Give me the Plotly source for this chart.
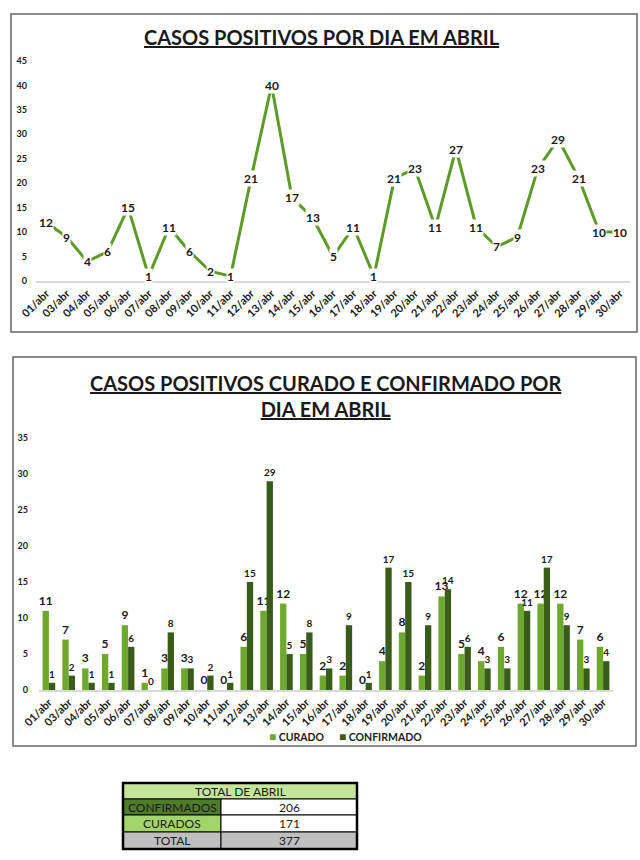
import plotly.graph_objects as go

# ---------------- data ----------------
dias = ["01/abr", "03/abr", "04/abr", "05/abr", "06/abr", "07/abr", "08/abr", "09/abr",
        "10/abr", "11/abr", "12/abr", "13/abr", "14/abr", "15/abr", "16/abr", "17/abr",
        "18/abr", "19/abr", "20/abr", "21/abr", "22/abr", "23/abr", "24/abr", "25/abr",
        "26/abr", "27/abr", "28/abr", "29/abr", "30/abr"]
positivos = [12, 9, 4, 6, 15, 1, 11, 6, 2, 1, 21, 40, 17, 13, 5, 11, 1, 21, 23, 11,
             27, 11, 7, 9, 23, 29, 21, 10, 10]
curado = [11, 7, 3, 5, 9, 1, 3, 3, 0, 0, 6, 11, 12, 5, 2, 2, 0, 4, 8, 2,
          13, 5, 4, 6, 12, 12, 12, 7, 6]
confirmado = [1, 2, 1, 1, 6, 0, 8, 3, 2, 1, 15, 29, 5, 8, 3, 9, 1, 17, 15, 9,
              14, 6, 3, 3, 11, 17, 9, 3, 4]
series_nomes = ["CURADO", "CONFIRMADO"]
tabela_titulo = "TOTAL DE ABRIL"
tabela_rotulos = ["CONFIRMADOS", "CURADOS", "TOTAL"]
tabela_valores = [206, 171, 377]

# ---------------- styles ----------------
W, H = 640, 860
FONT = "Lato"
LINE_GREEN = "#5d9b26"
LIGHT_GREEN = "#6fa82f"
DARK_GREEN = "#3a5c1b"
TXT = "#1a1a1a"


def px(x):
    return x / W


def py(y):
    return 1 - y / H


fig = go.Figure()

# top line chart
fig.add_trace(go.Scatter(
    x=dias, y=positivos, mode="lines",
    line=dict(color=LINE_GREEN, width=3),
    xaxis="x", yaxis="y", showlegend=False, hoverinfo="x+y",
))

# bottom bar chart
fig.add_trace(go.Bar(
    x=dias, y=curado, name=series_nomes[0], marker_color=LIGHT_GREEN,
    text=[str(v) for v in curado], textposition="outside",
    textfont=dict(family=FONT, size=12, color=TXT, weight="bold"),
    constraintext="none", cliponaxis=False, showlegend=False,
    xaxis="x2", yaxis="y2",
))
fig.add_trace(go.Bar(
    x=dias, y=confirmado, name=series_nomes[1], marker_color=DARK_GREEN,
    text=[str(v) for v in confirmado], textposition="outside",
    textfont=dict(family=FONT, size=10, color=TXT, weight="bold"),
    constraintext="none", cliponaxis=False, showlegend=False,
    xaxis="x2", yaxis="y2",
))

annotations = []
# line data labels with white background
for d, v in zip(dias, positivos):
    annotations.append(dict(
        x=d, y=v, xref="x", yref="y", text=str(v), showarrow=False,
        font=dict(family=FONT, size=12, color=TXT, weight="bold"),
        bgcolor="white", borderpad=0, xanchor="center", yanchor="middle",
    ))

# titles
annotations.append(dict(
    x=0.503, y=py(37), xref="paper", yref="paper", showarrow=False,
    text='<span style="text-decoration:underline">CASOS POSITIVOS POR DIA EM ABRIL</span>',
    font=dict(family=FONT, size=20, color=TXT, weight="bold"),
    xanchor="center", yanchor="middle",
))
annotations.append(dict(
    x=0.508, y=py(396), xref="paper", yref="paper", showarrow=False,
    text='<span style="text-decoration:underline">CASOS POSITIVOS CURADO E CONFIRMADO POR</span><br>'
         '<span style="text-decoration:underline">DIA EM ABRIL</span>',
    font=dict(family=FONT, size=20, color=TXT, weight="bold"),
    xanchor="center", yanchor="middle", align="center",
))

# compact legend (small squares close to the text)
for nome, cor, lx in zip(series_nomes, [LIGHT_GREEN, DARK_GREEN], [267, 337]):
    annotations.append(dict(
        x=px(lx), y=py(736), xref="paper", yref="paper", showarrow=False,
        text=f'<span style="color:{cor};font-size:12px">■</span> {nome}',
        font=dict(family=FONT, size=10.5, color=TXT, weight="bold"),
        xanchor="left", yanchor="middle",
    ))

shapes = []
# frames around charts
shapes.append(dict(type="rect", xref="paper", yref="paper",
                   x0=px(11), x1=px(637), y0=py(332), y1=py(14),
                   line=dict(color="#666666", width=1.5)))
shapes.append(dict(type="rect", xref="paper", yref="paper",
                   x0=px(13), x1=px(636), y0=py(746), y1=py(357),
                   line=dict(color="#666666", width=1.5)))

# table built from shapes + text
tx0, tx1, tmid = 123, 357, 221
rows_y = [783, 799, 815, 832, 849]
label_fills = ["#4f7d27", "#a2d46a", "#bfbfbf"]
value_fills = ["white", "white", "#bfbfbf"]
cell_font = dict(family=FONT, size=12, color=TXT)
shapes.append(dict(type="rect", xref="paper", yref="paper",
                   x0=px(tx0), x1=px(tx1), y0=py(rows_y[1]), y1=py(rows_y[0]),
                   fillcolor="#c5e59c", line=dict(color="black", width=1)))
annotations.append(dict(x=px((tx0 + tx1) / 2), y=py((rows_y[0] + rows_y[1]) / 2),
                        xref="paper", yref="paper", showarrow=False, text=tabela_titulo,
                        font=cell_font, xanchor="center", yanchor="middle"))
for i, (lab, val) in enumerate(zip(tabela_rotulos, tabela_valores)):
    y0, y1 = rows_y[i + 1], rows_y[i + 2]
    shapes.append(dict(type="rect", xref="paper", yref="paper",
                       x0=px(tx0), x1=px(tmid), y0=py(y1), y1=py(y0),
                       fillcolor=label_fills[i], line=dict(color="black", width=1)))
    shapes.append(dict(type="rect", xref="paper", yref="paper",
                       x0=px(tmid), x1=px(tx1), y0=py(y1), y1=py(y0),
                       fillcolor=value_fills[i], line=dict(color="black", width=1)))
    annotations.append(dict(x=px((tx0 + tmid) / 2), y=py((y0 + y1) / 2),
                            xref="paper", yref="paper", showarrow=False, text=lab,
                            font=cell_font, xanchor="center", yanchor="middle"))
    annotations.append(dict(x=px((tmid + tx1) / 2), y=py((y0 + y1) / 2),
                            xref="paper", yref="paper", showarrow=False, text=str(val),
                            font=cell_font, xanchor="center", yanchor="middle"))
# thick outer border
shapes.append(dict(type="rect", xref="paper", yref="paper",
                   x0=px(tx0), x1=px(tx1), y0=py(rows_y[-1]), y1=py(rows_y[0]),
                   line=dict(color="black", width=2.5)))

tickfont_x = dict(family=FONT, size=11, color=TXT, weight="bold")
tickfont_y = dict(family=FONT, size=9, color=TXT, weight="bold")

fig.update_layout(
    template="none",
    width=W, height=H, autosize=False,
    margin=dict(l=0, r=0, t=0, b=0, pad=0, autoexpand=False),
    paper_bgcolor="white", plot_bgcolor="white",
    font=dict(family=FONT, color=TXT),
    barmode="group", bargap=0.36, bargroupgap=0.0,
    showlegend=False,
    xaxis=dict(domain=[px(36), px(630)], anchor="y", type="category",
               range=[-0.5, len(dias) - 0.5], automargin=False,
               showgrid=False, zeroline=False, showline=True, linecolor="#d9d9d9",
               linewidth=1.5, ticks="", tickangle=-45, tickfont=tickfont_x),
    yaxis=dict(domain=[py(281), py(61)], anchor="x", range=[0, 45], dtick=5,
               automargin=False,
               showgrid=False, zeroline=False, showline=False, ticks="",
               tickfont=tickfont_y, ticklabelstandoff=8),
    xaxis2=dict(domain=[px(39), px(613)], anchor="y2", type="category",
                range=[-0.5, len(dias) - 0.5], automargin=False,
                showgrid=False, zeroline=False, showline=True, linecolor="#d9d9d9",
                linewidth=1.5, ticks="", tickangle=-45, tickfont=tickfont_x),
    yaxis2=dict(domain=[py(690), py(438)], anchor="x2", range=[0, 35], dtick=5,
                automargin=False,
                showgrid=False, zeroline=False, showline=False, ticks="",
                tickfont=tickfont_y, ticklabelstandoff=10),
    annotations=annotations,
    shapes=shapes,
)

fig.write_html("out.html", config={"displayModeBar": False},
               post_script="document.body.style.margin='0';document.body.style.overflow='hidden';")
